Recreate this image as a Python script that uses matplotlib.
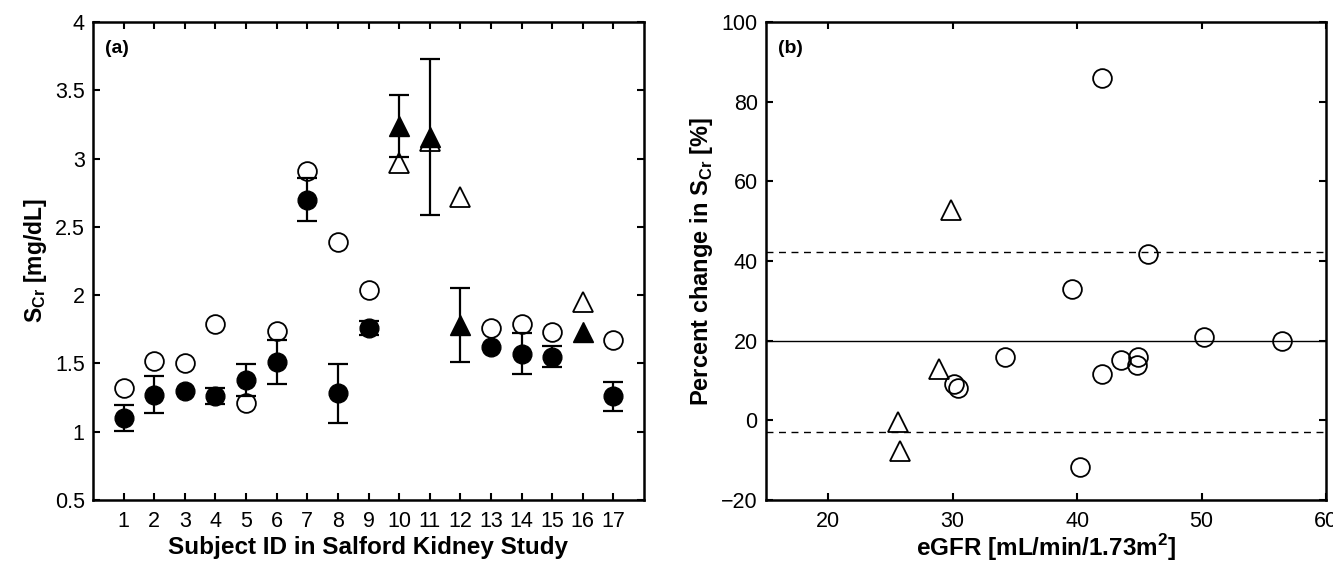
import numpy as np
import matplotlib
matplotlib.use('Agg')
import matplotlib.pyplot as plt

plt.rcParams['font.family'] = ['Liberation Sans', 'DejaVu Sans']
plt.rcParams['mathtext.fontset'] = 'custom'
plt.rcParams['mathtext.rm'] = 'Liberation Sans'
plt.rcParams['mathtext.bf'] = 'Liberation Sans:bold'

# panel (a): serum creatinine per subject
subjects = np.arange(1, 18)
scr_open = [1.32, 1.52, 1.50, 1.79, 1.21, 1.74, 2.91, 2.39, 2.04,
            2.97, 3.13, 2.72, 1.76, 1.79, 1.73, 1.95, 1.67]
scr_mean = [1.10, 1.27, 1.30, 1.26, 1.38, 1.51, 2.70, 1.28, 1.76,
            3.24, 3.16, 1.78, 1.62, 1.57, 1.55, 1.73, 1.26]
scr_sd = [0.095, 0.135, 0.0, 0.06, 0.115, 0.16, 0.16, 0.215, 0.05,
          0.225, 0.57, 0.27, 0.0, 0.15, 0.075, 0.0, 0.105]
triangle_ids = [10, 11, 12, 16]

# panel (b): percent change vs eGFR
egfr_circ = [42.0, 45.7, 39.6, 50.2, 56.5, 34.2, 30.1, 30.4, 43.5, 44.9, 44.85, 42.0, 40.2]
pct_circ = [85.9, 41.7, 32.9, 21.0, 20.0, 16.0, 9.0, 8.0, 15.2, 16.0, 14.0, 11.7, -11.8]
egfr_tri = [29.9, 28.9, 25.6, 25.8]
pct_tri = [52.9, 13.0, -0.3, -7.8]
mean_pct = 19.8
loa_upper = 42.3
loa_lower = -3.0

fig = plt.figure(figsize=(13.33, 5.64), dpi=100)
ax1 = fig.add_axes([93/1333, 64/564, 551/1333, 478/564])
ax2 = fig.add_axes([766/1333, 64/564, 560/1333, 478/564])

is_tri = np.isin(subjects, triangle_ids)
sd = np.array(scr_sd)
has_err = sd > 0
ms_c = 13.5
ms_t = 15

# open markers first so error bars sit on top
for s, v, t in zip(subjects, scr_open, is_tri):
    ax1.plot(s, v, '^' if t else 'o', ms=ms_t if t else ms_c, mfc='white',
             mec='black', mew=1.3, zorder=2)
ax1.errorbar(subjects[has_err], np.array(scr_mean)[has_err], yerr=sd[has_err],
             fmt='none', ecolor='black', elinewidth=1.6, capsize=7, capthick=1.6, zorder=3)
for s, v, t in zip(subjects, scr_mean, is_tri):
    ax1.plot(s, v, '^' if t else 'o', ms=ms_t if t else ms_c, mfc='black',
             mec='black', zorder=4)

ax1.set_xlim(0, 18)
ax1.set_ylim(0.5, 4)
ax1.set_xticks(subjects)
ax1.set_yticks([0.5, 1, 1.5, 2, 2.5, 3, 3.5, 4])
ax1.set_yticklabels(['0.5', '1', '1.5', '2', '2.5', '3', '3.5', '4'])
ax1.set_xlabel('Subject ID in Salford Kidney Study', fontsize=17.5, fontweight='bold', labelpad=3)
ax1.set_ylabel(r'S$_{\mathbf{Cr}}$ [mg/dL]', fontsize=16.5, fontweight='bold', labelpad=4)
ax1.text(0.022, 0.962, '(a)', transform=ax1.transAxes, fontsize=14,
         fontweight='bold', va='top', ha='left')

ax2.axhline(mean_pct, color='black', lw=1.0, zorder=1)
ax2.axhline(loa_upper, color='black', lw=1.0, ls=(0, (5, 4)), zorder=1)
ax2.axhline(loa_lower, color='black', lw=1.0, ls=(0, (5, 4)), zorder=1)
ax2.plot(egfr_circ, pct_circ, 'o', ms=13.5, mfc='none', mec='black', mew=1.3, zorder=3)
ax2.plot(egfr_tri, pct_tri, '^', ms=14.5, mfc='none', mec='black', mew=1.3, zorder=3)

ax2.set_xlim(15, 60)
ax2.set_ylim(-20, 100)
ax2.set_xticks([20, 30, 40, 50, 60])
ax2.set_yticks([-20, 0, 20, 40, 60, 80, 100])
ax2.set_xlabel(r'eGFR [mL/min/1.73m$^{\mathbf{2}}$]', fontsize=17.5, fontweight='bold', labelpad=0)
ax2.set_ylabel(r'Percent change in S$_{\mathbf{Cr}}$ [%]', fontsize=17, fontweight='bold', labelpad=4)
ax2.text(0.022, 0.962, '(b)', transform=ax2.transAxes, fontsize=14,
         fontweight='bold', va='top', ha='left')

for ax in (ax1, ax2):
    for sp in ax.spines.values():
        sp.set_linewidth(1.8)
    ax.tick_params(direction='in', top=True, right=True, length=5, width=1.5,
                   labelsize=15.5, pad=6)
    ax.tick_params(axis='x', pad=8)

fig.savefig('out.png', dpi=100)
